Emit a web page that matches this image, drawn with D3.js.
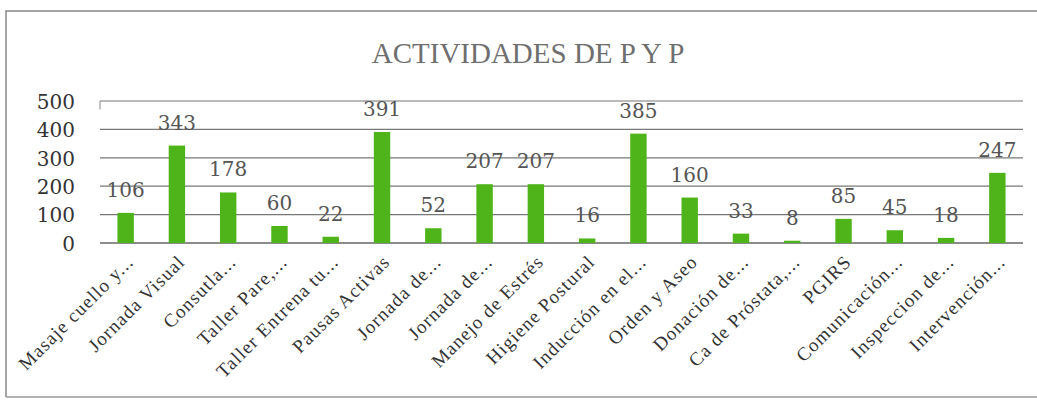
<!DOCTYPE html>
<html><head><meta charset="utf-8">
<script src="https://cdn.jsdelivr.net/npm/d3@7"></script>
<style>body{margin:0;background:#fff;}svg{display:block;}</style>
</head><body>
<svg id="c" width="1037" height="401"></svg>
<script>
const categories = ["Masaje cuello y...","Jornada Visual","Consutla...","Taller Pare,...","Taller Entrena tu...","Pausas Activas","Jornada de...","Jornada de...","Manejo de Estrés","Higiene Postural","Inducción en el...","Orden y Aseo","Donación de...","Ca de Próstata,...","PGIRS","Comunicación...","Inspeccion de...","Intervención..."];
const values = [106,343,178,60,22,391,52,207,207,16,385,160,33,8,85,45,18,247];
const yTicks = [0,100,200,300,400,500];
const title = "ACTIVIDADES DE P Y P";

const svg = d3.select("#c");
const m = {left:100, right:1023, top:101, bottom:243};
const x = d3.scaleBand().domain(d3.range(categories.length)).range([m.left, m.right]).paddingInner(0.68).paddingOuter(0.34);
const y = d3.scaleLinear().domain([0,500]).range([m.bottom, m.top]);
const serif = "'DejaVu Serif', 'Liberation Serif', serif";

// outer frame
svg.append("path").attr("d","M6,397 L6,11 L1037,11").attr("fill","none").attr("stroke","#888").attr("stroke-width",1.5);
svg.append("line").attr("x1",6).attr("x2",1037).attr("y1",397).attr("y2",397).attr("stroke","#999").attr("stroke-width",1.5);

svg.append("text").attr("x",528).attr("y",63).attr("text-anchor","middle")
  .attr("font-family","'Liberation Serif', serif").attr("font-size",29).attr("fill","#6f6f6f").text(title);

// grid
svg.append("g").selectAll("line").data(yTicks).join("line")
  .attr("x1",m.left).attr("x2",m.right).attr("y1",d=>y(d)).attr("y2",d=>y(d))
  .attr("stroke",d=>d===0?"#666":"#777").attr("stroke-width",d=>d===0?1.5:1.2);
svg.append("line").attr("x1",m.left).attr("x2",m.left).attr("y1",y(500)).attr("y2",y(470)).attr("stroke","#888");

// y axis labels
const yAxis = d3.axisLeft(y).tickValues(yTicks).tickSize(0).tickPadding(0);
const ga = svg.append("g").attr("transform","translate(75,0)").call(yAxis);
ga.select(".domain").remove();
ga.selectAll("text").attr("font-family",serif).attr("font-size",20).attr("fill","#333").attr("dy","0.36em");

// bars
svg.append("g").selectAll("rect").data(values).join("rect")
  .attr("x",(d,i)=>x(i)).attr("width",x.bandwidth())
  .attr("y",d=>y(d)).attr("height",d=>y(0)-y(d)).attr("fill","#4fb41a");

// data labels
svg.append("g").selectAll("text").data(values).join("text")
  .attr("x",(d,i)=>x(i)+x.bandwidth()/2).attr("y",d=>y(d)-16)
  .attr("text-anchor","middle").attr("font-family",serif).attr("font-size",20).attr("fill","#555")
  .text(d=>d);

// category labels
const xAxis = d3.axisBottom(x).tickSize(0).tickFormat(i=>categories[i]);
const gx = svg.append("g").attr("transform",`translate(0,${m.bottom})`).call(xAxis);
gx.select(".domain").remove();
gx.selectAll("text").attr("font-family","'Liberation Serif', serif").attr("font-size",19).attr("letter-spacing",1.1).attr("fill","#333")
  .attr("text-anchor","end").attr("dy",0).attr("y",0)
  .attr("transform","translate(9,20) rotate(-45)");
</script>
</body></html>
